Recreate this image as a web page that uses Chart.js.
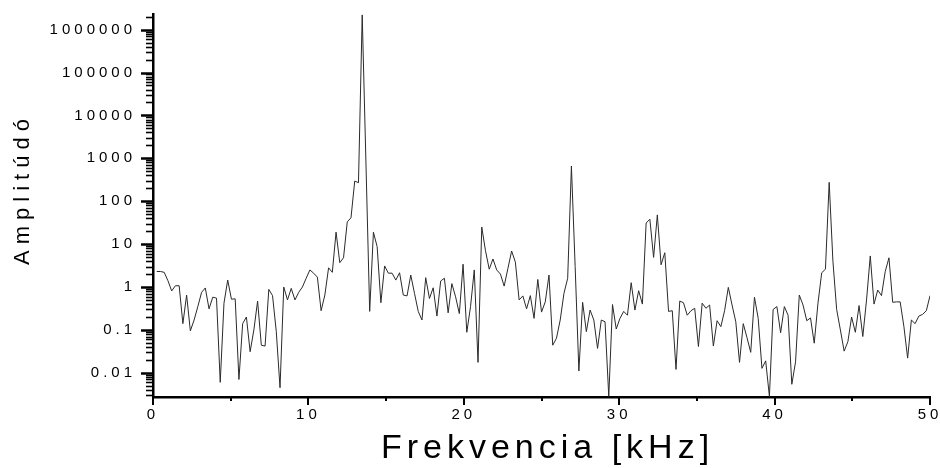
<!DOCTYPE html>
<html>
<head>
<meta charset="utf-8">
<script src="https://cdn.jsdelivr.net/npm/chart.js@4.4.1/dist/chart.umd.min.js"></script>
<style>
  html, body { margin: 0; padding: 0; background: #fff; }
  #wrap { width: 940px; height: 468px; }
</style>
</head>
<body>
<div id="wrap"><canvas id="spectrum" width="940" height="468"></canvas></div>
<script>
// spectrum bins, one value every binKHz starting at the first bin
var binKHz = 0.2404;
var amplitude = [
	2.3, 2.3, 2.2, 1.4, 0.81, 1.07, 1.07, 0.14, 0.65, 0.095,
	0.17, 0.35, 0.75, 0.95, 0.31, 0.58, 0.55, 0.006, 0.42, 1.45,
	0.52, 0.53, 0.007, 0.14, 0.2, 0.031, 0.1, 0.47, 0.044, 0.042,
	0.88, 0.63, 0.091, 0.0045, 1.0, 0.5, 0.93, 0.5, 0.75, 1.0,
	1.6, 2.5, 2.1, 1.7, 0.28, 0.65, 2.8, 2.2, 19, 3.7,
	4.8, 33, 41, 295, 270, 2200000, 780, 0.27, 19, 8.7,
	0.43, 3.1, 2.1, 2.1, 1.45, 2.15, 0.65, 0.62, 1.9, 0.71,
	0.27, 0.17, 1.65, 0.54, 0.96, 0.21, 1.38, 1.6, 0.25, 1.2,
	0.59, 0.24, 3.4, 0.088, 0.35, 2.5, 0.0175, 25, 7, 2.6,
	4.5, 2.5, 2.0, 1.05, 2.7, 6.9, 3.8, 0.5, 0.62, 0.31,
	0.63, 0.186, 1.5, 0.26, 0.45, 1.9, 0.044, 0.064, 0.17, 0.71,
	1.6, 660, 3, 0.011, 0.44, 0.091, 0.29, 0.17, 0.037, 0.17,
	0.155, 0.0028, 0.39, 0.105, 0.186, 0.27, 0.22, 1.26, 0.29, 0.82,
	0.4, 31, 38, 4.9, 48, 3.3, 6.3, 0.27, 0.28, 0.012,
	0.47, 0.43, 0.22, 0.28, 0.32, 0.041, 0.42, 0.32, 0.38, 0.042,
	0.164, 0.119, 0.28, 0.98, 0.38, 0.155, 0.0175, 0.14, 0.066, 0.03,
	0.58, 0.186, 0.0127, 0.019, 0.0028, 0.3, 0.35, 0.086, 0.35, 0.22,
	0.0054, 0.018, 0.65, 0.38, 0.164, 0.19, 0.049, 0.42, 2.15, 2.6,
	275, 4, 0.3, 0.1, 0.032, 0.053, 0.2, 0.088, 0.37, 0.07,
	0.5, 5.3, 0.4, 0.85, 0.63, 2.3, 4.8, 0.44, 0.45, 0.45,
	0.12, 0.022, 0.17, 0.14, 0.21, 0.23, 0.28, 0.63
];
var xTickLabels = [0, 10, 20, 30, 40, 50];
var yTickLabels = [0.01, 0.1, 1, 10, 100, 1000, 10000, 100000, 1000000];
var xTitle = 'Frekvencia [kHz]';
var yTitle = 'Amplitúdó';

var xMin = 0, xMax = 50;
var yMin = 0.00273, yMax = 2310000;

var points = amplitude.map(function (v, i) {
	return { x: (i + 1) * binKHz, y: v };
});

var tickFont = { family: '"Liberation Sans", Arial, sans-serif', size: 15 };

// tick marks and axis titles, drawn in the look of the original plot
var axisDecor = {
	id: 'axisDecor',
	beforeDraw: function (chart) {
		chart.ctx.letterSpacing = '4px';
	},
	afterDraw: function (chart) {
		var ctx = chart.ctx,
			area = chart.chartArea,
			xs = chart.scales.x,
			ys = chart.scales.y;

		ctx.save();
		ctx.letterSpacing = '0px';
		ctx.strokeStyle = '#000';

		// y: log ticks, long at decades, short in between
		for (var d = -3; d <= 6; d++) {
			for (var k = 1; k <= 9; k++) {
				var v = k * Math.pow(10, d);
				if (v < yMin || v > yMax) continue;
				var py = Math.round(ys.getPixelForValue(v)) + 0.5;
				ctx.beginPath();
				if (k === 1) {
					ctx.lineWidth = 2.5;
					ctx.moveTo(area.left - 12, py);
					ctx.lineTo(area.left, py);
				} else {
					ctx.lineWidth = 1.6;
					ctx.moveTo(area.left - 7, py);
					ctx.lineTo(area.left + 1, py);
				}
				ctx.stroke();
			}
		}

		// x: long ticks every 10, short every 5
		for (var f = xMin; f <= xMax; f += 5) {
			var px = Math.round(xs.getPixelForValue(f));
			ctx.beginPath();
			ctx.lineWidth = 2;
			ctx.moveTo(px, area.bottom);
			ctx.lineTo(px, area.bottom + (f % 10 === 0 ? 8 : 4));
			ctx.stroke();
		}

		// axis titles
		ctx.fillStyle = '#000';
		ctx.textBaseline = 'alphabetic';
		ctx.textAlign = 'center';
		ctx.font = '34px "Liberation Sans Narrow", "Liberation Sans", Arial, sans-serif';
		ctx.letterSpacing = '5px';
		ctx.fillText(xTitle, (area.left + area.right) / 2 + 6, 458);

		ctx.translate(29, 192);
		ctx.rotate(-Math.PI / 2);
		ctx.font = '22px "Liberation Sans", Arial, sans-serif';
		ctx.letterSpacing = '6px';
		ctx.fillText(yTitle, 3, 0);
		ctx.restore();
	}
};

new Chart(document.getElementById('spectrum'), {
	type: 'line',
	data: {
		datasets: [{
			data: points,
			borderColor: '#2a2a2a',
			borderWidth: 1,
			pointRadius: 0,
			tension: 0,
			fill: false
		}]
	},
	options: {
		responsive: false,
		animation: false,
		layout: { padding: { top: 14, right: 10, left: 0, bottom: 0 } },
		plugins: {
			legend: { display: false },
			tooltip: { enabled: false }
		},
		scales: {
			x: {
				type: 'linear',
				min: xMin,
				max: xMax,
				afterFit: function (scale) {
					scale.height = 71;
					// keep the end labels from shrinking the plot area
					scale.paddingLeft = 0;
					scale.paddingRight = 0;
				},
				afterBuildTicks: function (scale) {
					scale.ticks = xTickLabels.map(function (v) { return { value: v }; });
				},
				ticks: {
					color: '#000',
					font: tickFont,
					padding: 9,
					maxRotation: 0,
					autoSkip: false,
					callback: function (v) { return String(v); }
				},
				grid: { display: true, drawOnChartArea: false, drawTicks: false },
				border: { display: true, color: '#000', width: 2.5 }
			},
			y: {
				type: 'logarithmic',
				min: yMin,
				max: yMax,
				afterFit: function (scale) {
					scale.width = 153;
					scale.paddingTop = 0;
					scale.paddingBottom = 0;
				},
				afterBuildTicks: function (scale) {
					scale.ticks = yTickLabels.map(function (v) { return { value: v }; });
				},
				ticks: {
					color: '#000',
					font: tickFont,
					padding: 17,
					autoSkip: false,
					callback: function (v) { return String(v); }
				},
				grid: { display: true, drawOnChartArea: false, drawTicks: false },
				border: { display: true, color: '#000', width: 2.5 }
			}
		}
	},
	plugins: [axisDecor]
});
</script>
</body>
</html>
